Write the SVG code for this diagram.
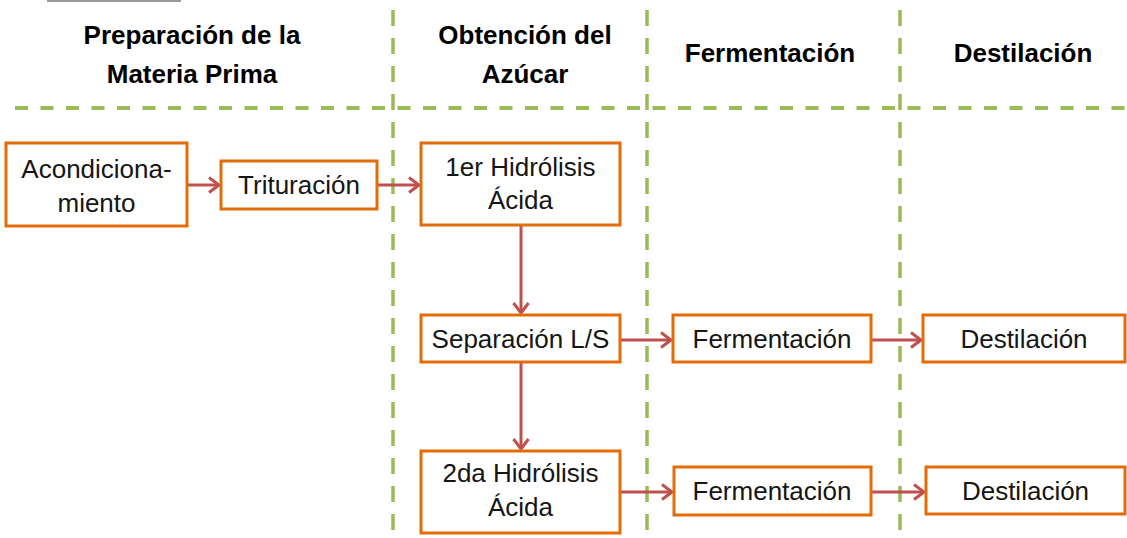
<svg xmlns="http://www.w3.org/2000/svg" width="1127" height="538" viewBox="0 0 1127 538">
<style>
.bg{fill:#fff}
.box{fill:#fff;stroke:#E36C09;stroke-width:3}
.t{font-family:"Liberation Sans",Arial,sans-serif;font-size:26px;fill:#151515;text-anchor:middle}
.h{font-family:"Liberation Sans",Arial,sans-serif;font-size:26px;font-weight:bold;fill:#000;text-anchor:middle}
.hd{stroke:#9BBB59;stroke-width:4;stroke-dasharray:13 12.5;fill:none}
.vd{stroke:#9BBB59;stroke-width:3.5;stroke-dasharray:16 12;fill:none}
.c{stroke:#C0504D;stroke-width:3;fill:none}
</style>
<defs>
<marker id="ah" markerUnits="userSpaceOnUse" markerWidth="14" markerHeight="20" refX="12" refY="10" orient="auto">
<path d="M2,2.5 L12,10 L2,17.5" fill="none" stroke="#C0504D" stroke-width="3"/>
</marker>
</defs>
<rect class="bg" x="0" y="0" width="1127" height="538"/>
<line x1="47" y1="1" x2="181" y2="1" stroke="#9a9a9a" stroke-width="2"/>
<g id="grid">
<line class="hd" x1="15" y1="108" x2="1127" y2="108"/>
<line class="vd" x1="393" y1="10" x2="393" y2="538"/>
<line class="vd" x1="647" y1="10" x2="647" y2="538"/>
<line class="vd" x1="900" y1="10" x2="900" y2="538"/>
</g>
<g id="headers">
<text class="h" x="192" y="44">Preparación  de la</text>
<text class="h" x="192" y="83">Materia Prima</text>
<text class="h" x="525" y="44">Obtención del</text>
<text class="h" x="525" y="83">Azúcar</text>
<text class="h" x="770" y="62">Fermentación</text>
<text class="h" x="1023" y="62">Destilación</text>
</g>
<g id="connectors">
<line class="c" x1="187" y1="185" x2="219" y2="185" marker-end="url(#ah)"/>
<line class="c" x1="377" y1="185" x2="419" y2="185" marker-end="url(#ah)"/>
<line class="c" x1="521" y1="225" x2="521" y2="313" marker-end="url(#ah)"/>
<line class="c" x1="521" y1="362" x2="521" y2="449" marker-end="url(#ah)"/>
<line class="c" x1="620" y1="340" x2="671" y2="340" marker-end="url(#ah)"/>
<line class="c" x1="871" y1="340" x2="921" y2="340" marker-end="url(#ah)"/>
<line class="c" x1="620" y1="492" x2="672" y2="492" marker-end="url(#ah)"/>
<line class="c" x1="871" y1="492" x2="924" y2="492" marker-end="url(#ah)"/>
</g>
<g id="acondicionamiento">
<rect class="box" x="6" y="143" width="181" height="83"/>
<text class="t" x="96.5" y="178">Acondiciona-</text>
<text class="t" x="96.5" y="212">miento</text>
</g>
<g id="trituracion">
<rect class="box" x="221" y="161" width="156" height="48"/>
<text class="t" x="299" y="194">Trituración</text>
</g>
<g id="hidrolisis1">
<rect class="box" x="421" y="143" width="199" height="82"/>
<text class="t" x="520.5" y="176">1er Hidrólisis</text>
<text class="t" x="520.5" y="209">Ácida</text>
</g>
<g id="separacion">
<rect class="box" x="421" y="315" width="199" height="47"/>
<text class="t" x="520.5" y="348">Separación L/S</text>
</g>
<g id="hidrolisis2">
<rect class="box" x="421" y="451" width="199" height="82"/>
<text class="t" x="520.5" y="482">2da Hidrólisis</text>
<text class="t" x="520.5" y="516">Ácida</text>
</g>
<g id="fermentacion1">
<rect class="box" x="673" y="315" width="198" height="47"/>
<text class="t" x="772" y="348">Fermentación</text>
</g>
<g id="destilacion1">
<rect class="box" x="923" y="315" width="202" height="47"/>
<text class="t" x="1024" y="348">Destilación</text>
</g>
<g id="fermentacion2">
<rect class="box" x="674" y="467" width="197" height="48"/>
<text class="t" x="772" y="500">Fermentación</text>
</g>
<g id="destilacion2">
<rect class="box" x="926" y="467" width="199" height="47"/>
<text class="t" x="1025.5" y="500">Destilación</text>
</g>
</svg>
